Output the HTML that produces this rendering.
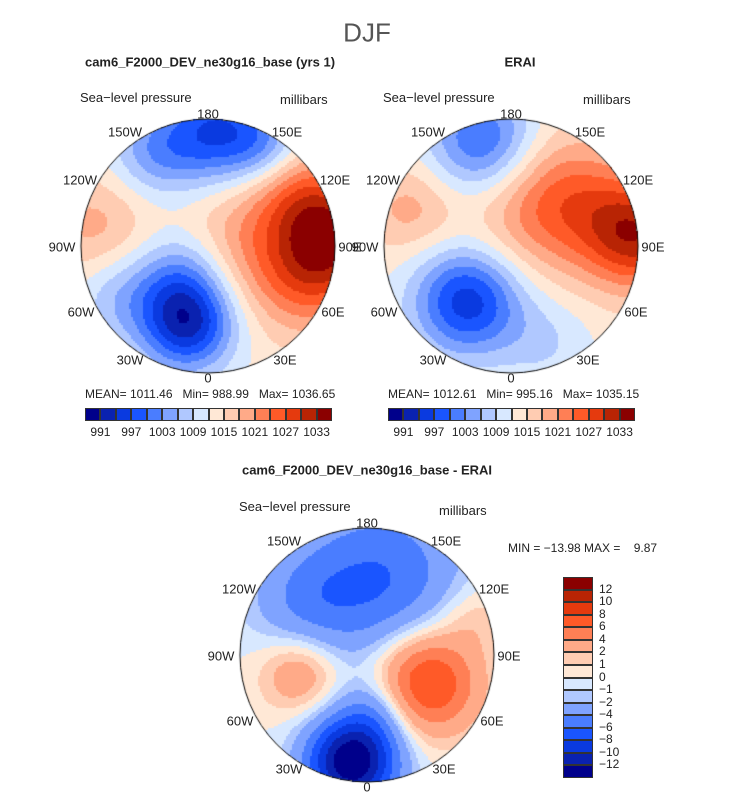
<!DOCTYPE html>
<html><head><meta charset="utf-8">
<style>
body{margin:0;width:733px;height:798px;background:#fff;position:relative;overflow:hidden;font-family:"Liberation Sans",sans-serif;color:#222}
.t{position:absolute;white-space:nowrap;transform:translate(-50%,-50%);font-size:13px}
.l{position:absolute;white-space:nowrap;font-size:13px}
canvas{position:absolute}
</style></head><body>
<div class="t" style="left:367px;top:33px;font-size:26px;color:#555;font-weight:300">DJF</div>
<div class="t" style="left:210px;top:62px;font-weight:bold">cam6_F2000_DEV_ne30g16_base (yrs 1)</div>
<div class="t" style="left:520px;top:62px;font-weight:bold">ERAI</div>
<div class="t" style="left:367px;top:470px;font-weight:bold">cam6_F2000_DEV_ne30g16_base - ERAI</div>
<div class="l" style="left:508px;top:541px;font-size:12px">MIN = −13.98 MAX =&nbsp;&nbsp;&nbsp;&nbsp;9.87</div>
<div id="root"></div>
<script>
// colour levels
const mainLevels=[991,994,997,1000,1003,1006,1009,1012,1015,1018,1021,1024,1027,1030,1033];
const mainTickLabels=['991','997','1003','1009','1015','1021','1027','1033'];
const diffLevels=[-12,-10,-8,-6,-4,-2,-1,0,1,2,4,6,8,10,12];
const diffTickLabels=['12','10','8','6','4','2','1','0','−1','−2','−4','−6','−8','−10','−12'];
const colors=['#00008b','#0a22b0','#0a3ae0','#1a55ff','#4a7dff','#7fa3ff','#b0c8ff','#d8e8ff','#ffe8d6','#ffccb2','#ffaa88','#ff7f55','#ff5a28','#e53a0e','#b82404','#8b0000'];
// field blobs: [lon, rho, amplitude, sigma]
const modelBase=1013;
const modelBlobs=[[-15,0.63,-20,0.26],[175,0.9,-16,0.3],[-150,0.85,-8,0.25],[150,0.9,-6,0.2],[95,1.0,16,0.3],[70,0.85,8,0.3],[120,0.85,6,0.25],[100,0.4,8,0.4],[-100,0.9,6,0.3],[-45,0.3,-8,0.25],[-60,0.8,-6,0.25]];
const eraiBase=1013;
const eraiBlobs=[[-38,0.55,-18,0.3],[-165,0.85,-14,0.3],[95,1.0,18,0.3],[130,0.6,8,0.35],[150,0.3,6,0.4],[-110,0.85,6,0.25],[20,0.8,-4,0.25]];
const diffBase=0;
const diffBlobs=[[66,0.52,9,0.28],[-8,0.85,-14,0.25],[170,0.6,-6,0.45],[-130,0.65,-3,0.3],[-75,0.55,4,0.22],[10,0.45,-3,0.2],[110,0.9,2,0.2]];
const mean1='MEAN= 1011.46&nbsp;&nbsp;&nbsp;Min= 988.99&nbsp;&nbsp;&nbsp;Max= 1036.65';
const mean2='MEAN= 1012.61&nbsp;&nbsp;&nbsp;Min= 995.16&nbsp;&nbsp;&nbsp;Max= 1035.15';
const lonLabels=['180','150W','150E','120W','120E','90W','90E','60W','60E','30W','30E','0'];
const lonOff=[[0,-132],[-83,-114],[79,-114],[-128,-66],[127,-66],[-146,1],[142,1],[-127,66],[125,66],[-78,114],[77,114],[0,132]];
const root=document.getElementById('root');
function levelIndex(v,lv){let i=0;while(i<lv.length&&v>=lv[i])i++;return i;}
function drawMap(name,cx,cy,R,base,blobs,lv){
  const c=document.createElement('canvas');
  
  
  c.width=2*R+4;c.height=2*R+4;c.style.left=(cx-R-2)+'px';c.style.top=(cy-R-2)+'px';
  root.appendChild(c);
  const g=c.getContext('2d');
  const bp=blobs.map(b=>[Math.sin(b[0]*Math.PI/180)*b[1],Math.cos(b[0]*Math.PI/180)*b[1],b[2],b[3]]);
  const s=2;
  for(let py=0;py<2*R+4;py+=s)for(let px=0;px<2*R+4;px+=s){
    const x=(px+s/2-R-2)/R,y=(py+s/2-R-2)/R;
    if(x*x+y*y>1.0)continue;
    let v=base;
    for(const b of bp){const d=(x-b[0])**2+(y-b[1])**2;v+=b[2]*Math.exp(-d/(2*b[3]*b[3]));}
    g.fillStyle=colors[levelIndex(v,lv)];g.fillRect(px,py,s,s);
  }
  g.beginPath();g.arc(R+2,R+2,R,0,Math.PI*2);g.strokeStyle='#000';g.lineWidth=1;g.stroke();
  lonLabels.forEach((t,i)=>{
    const d=document.createElement('div');d.className='t';
    
    
    d.style.left=(cx+lonOff[i][0])+'px';d.style.top=(cy+lonOff[i][1])+'px';d.textContent=t;root.appendChild(d);
  });
  const a=document.createElement('div');a.className='l';
  
  
  a.style.left=(cx-128)+'px';a.style.top=(cy-156)+'px';a.textContent='Sea\u2212level pressure';root.appendChild(a);
  const u=document.createElement('div');u.className='l';
  
  
  u.style.left=(cx+72)+'px';u.style.top=(cy+(cy>500?-152:-154))+'px';u.textContent='millibars';root.appendChild(u);
}
function hbar(name,x0,y0,w,h,meanText){
  const m=document.createElement('div');m.className='l';
  
  
  m.style.left=x0+'px';m.style.top=(y0-21)+'px';m.style.fontSize='12px';m.innerHTML=meanText;root.appendChild(m);
  const bw=w/colors.length;
  colors.forEach((col,i)=>{
    const b=document.createElement('div');
    
    
    b.style.cssText=`position:absolute;left:${x0+i*bw}px;top:${y0}px;width:${bw}px;height:${h}px;background:${col};box-sizing:border-box;border:0.5px solid #333`;
    root.appendChild(b);
  });
  mainTickLabels.forEach((t,k)=>{
    const d=document.createElement('div');d.className='t';
    
    
    d.style.left=(x0+(2*k+1)*bw)+'px';d.style.top=(y0+h+11)+'px';d.style.fontSize='12px';d.textContent=t;root.appendChild(d);
  });
}
function vbar(x0,y0,w,h){
  const bh=h/colors.length;
  colors.slice().reverse().forEach((col,i)=>{
    const b=document.createElement('div');
    
    
    b.style.cssText=`position:absolute;left:${x0}px;top:${y0+i*bh}px;width:${w}px;height:${bh}px;background:${col};box-sizing:border-box;border:0.5px solid #333`;
    root.appendChild(b);
  });
  diffTickLabels.forEach((t,k)=>{
    const d=document.createElement('div');d.className='l';
    
    
    d.style.left=(x0+w+6)+'px';d.style.top=(y0+(k+1)*bh-8)+'px';d.style.fontSize='12px';d.textContent=t;root.appendChild(d);
  });
}
drawMap('model-map',208,246,127,modelBase,modelBlobs,mainLevels);
drawMap('erai-map',511,246,127,eraiBase,eraiBlobs,mainLevels);
drawMap('diff-map',367,655,127,diffBase,diffBlobs,diffLevels);
hbar('model-colorbar',85,408,247,13,mean1);
hbar('erai-colorbar',388,408,247,13,mean2);
vbar(563,577,30,201);
</script>
</body></html>
